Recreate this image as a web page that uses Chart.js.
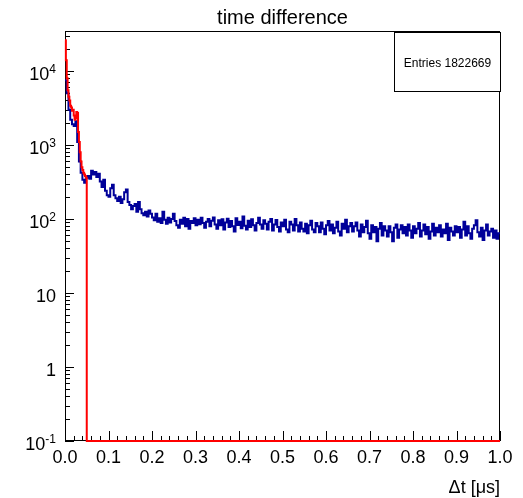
<!DOCTYPE html>
<html>
<head>
<meta charset="utf-8">
<script src="https://cdn.jsdelivr.net/npm/chart.js@4/dist/chart.umd.min.js"></script>
<style>
    html, body { margin: 0; padding: 0; background: #fff; }
    #wrap { width: 523px; height: 498px; }
</style>
</head>
<body>
<div id="wrap"><canvas id="timeDiff" width="523" height="498"></canvas></div>
<script>
// Histogram binning (x in microseconds)
const X_MIN = 0.0;
const X_MAX = 1.0;
const Y_MIN = 0.1;
const Y_MAX = 34700;
const BLUE_BIN = 0.004;
const RED_BIN = 0.002;

// time difference histogram, 250 bins of 0.004
const blueCounts = [
    7500, 5000, 3000, 2200, 1900, 1800, 2100, 1100, 600, 420,
    340, 310, 360, 380, 350, 450, 400, 430, 370, 410,
    320, 270, 340, 240, 210, 200, 260, 290, 210, 190,
    175, 200, 165, 185, 230, 250, 170, 155, 135, 150,
    160, 125, 170, 135, 120, 112, 125, 108, 130, 118,
    105, 96, 118, 92, 102, 88, 125, 98, 86, 104,
    90, 100, 118, 94, 82, 76, 98, 86, 104, 80,
    100, 74, 94, 88, 102,
    82, 98, 85, 104, 88, 76, 92, 100, 80, 95,
    105, 84, 74, 96, 82, 99, 72, 90, 101, 78,
    94, 80, 68, 102, 83, 92, 75, 108, 81, 72,
    95, 78, 99, 82, 70, 88, 104, 84, 74, 96,
    86, 72, 92, 100, 70, 84, 97, 78, 68, 90,
    80, 98, 72, 66, 92, 84, 70, 100, 82, 68,
    90, 74, 68, 86, 64, 82, 95, 72, 66, 88,
    80, 66, 90, 74, 62, 82, 94, 70, 84, 64,
    76, 92, 68, 60, 86, 74, 98, 66, 80, 88,
    68, 80, 90, 70, 58, 84, 66, 78, 95, 64,
    54, 82, 66, 78, 50, 74, 88, 60, 80, 70,
    58, 80, 66, 50, 76, 84, 56, 72, 82, 64,
    78, 60, 84, 70, 56, 80, 64, 74, 88, 58,
    70, 84, 62, 78, 54, 68, 86, 60, 76, 66,
    82, 58, 72, 64, 86, 52, 76, 68, 60, 80,
    66, 78, 56, 72, 92, 60, 80, 64, 54, 74,
    82, 96, 66, 58, 76, 52, 70, 84, 60, 68,
    74, 56, 70, 54, 64
];

// red overlay, 0.002 bins up to 0.05, empty afterwards
const redCounts = [
    26000, 14000, 8000, 5500, 4500, 4000, 3400, 3200, 2900, 3000,
    2500, 2200, 2300, 2800, 2700, 1500, 1100, 800, 600, 500,
    460, 420, 400, 380, 360
];

const xTickLabels = ['0.0', '0.1', '0.2', '0.3', '0.4', '0.5', '0.6', '0.7', '0.8', '0.9', '1.0'];
const yTickValues = [0.1, 1, 10, 100, 1000, 10000];
const yTickLabels = ['10^-1', '1', '10', '10^2', '10^3', '10^4'];

const entries = 1822669;
const FONT = '"Liberation Sans", Arial, Helvetica, sans-serif';

function histPoints(counts, width) {
    const pts = counts.map((v, i) => ({ x: X_MIN + i * width, y: Math.max(v, Y_MIN) }));
    pts.push({ x: X_MIN + counts.length * width, y: Math.max(counts[counts.length - 1], Y_MIN) });
    return pts;
}

const bluePoints = histPoints(blueCounts, BLUE_BIN);
const redPoints = redCounts.map((v, i) => ({ x: X_MIN + i * RED_BIN, y: v }));
redPoints.push({ x: redCounts.length * RED_BIN, y: Y_MIN });
redPoints.push({ x: X_MAX, y: Y_MIN });

// frame, ticks and tick labels in ROOT style
const rootAxes = {
    id: 'rootAxes',
    beforeDatasetsDraw(chart) {
        const { ctx, chartArea: a } = chart;
        const xs = chart.scales.x, ys = chart.scales.y;
        ctx.save();
        ctx.strokeStyle = '#000';
        ctx.lineWidth = 1;
        ctx.strokeRect(a.left + 0.5, a.top + 0.5, a.right - a.left - 1, a.bottom - a.top - 1);

        ctx.beginPath();
        // x ticks
        const xMajor = xTickLabels.map(parseFloat);
        xMajor.forEach((v, i) => {
            const px = Math.round(xs.getPixelForValue(v)) + 0.5;
            ctx.moveTo(px, a.bottom);
            ctx.lineTo(px, a.bottom - 10);
            if (i < xMajor.length - 1) {
                const step = (xMajor[i + 1] - v) / 5;
                for (let k = 1; k < 5; k++) {
                    const mx = Math.round(xs.getPixelForValue(v + k * step)) + 0.5;
                    ctx.moveTo(mx, a.bottom);
                    ctx.lineTo(mx, a.bottom - 5);
                }
            }
        });
        // y ticks (log)
        yTickValues.forEach(v => {
            const py = Math.round(ys.getPixelForValue(v)) + 0.5;
            ctx.moveTo(a.left, py);
            ctx.lineTo(a.left + 9, py);
            for (let k = 2; k <= 9; k++) {
                const mv = v * k;
                if (mv > Y_MAX) break;
                const my = Math.round(ys.getPixelForValue(mv)) + 0.5;
                ctx.moveTo(a.left, my);
                ctx.lineTo(a.left + 5, my);
            }
        });
        ctx.stroke();

        // x labels
        ctx.fillStyle = '#000';
        ctx.font = '18px ' + FONT;
        ctx.textAlign = 'center';
        ctx.textBaseline = 'alphabetic';
        xTickLabels.forEach(lbl => {
            ctx.fillText(lbl, xs.getPixelForValue(parseFloat(lbl)), a.bottom + 22);
        });

        // y labels with superscripts
        const right = a.left - 9;
        yTickLabels.forEach((lbl, i) => {
            const py = ys.getPixelForValue(yTickValues[i]);
            const parts = lbl.split('^');
            ctx.textAlign = 'right';
            if (parts.length === 2) {
                ctx.font = '12px ' + FONT;
                const ew = ctx.measureText(parts[1]).width;
                ctx.fillText(parts[1], right, py + 2);
                ctx.font = '18px ' + FONT;
                ctx.fillText(parts[0], right - ew, py + 9);
            } else {
                ctx.font = '18px ' + FONT;
                ctx.fillText(parts[0], right, py + 9);
            }
        });

        // axis title
        ctx.font = '18px ' + FONT;
        ctx.textAlign = 'right';
        ctx.fillText('\u0394t [\u03bcs]', a.right, a.bottom + 52);

        // title
        ctx.font = '20px ' + FONT;
        ctx.textAlign = 'center';
        ctx.fillText('time difference', (a.left + a.right) / 2, 24);
        ctx.restore();
    },
    afterDraw(chart) {
        const { ctx, chartArea: a } = chart;
        ctx.save();
        const bx = 394, by = a.top + 1, bw = a.right - 394 + 1, bh = 60;
        ctx.fillStyle = '#fff';
        ctx.fillRect(bx, by, bw, bh);
        ctx.strokeStyle = '#000';
        ctx.lineWidth = 1;
        ctx.strokeRect(bx + 0.5, by + 0.5, bw - 1, bh - 1);
        ctx.fillStyle = '#000';
        ctx.font = '12px ' + FONT;
        ctx.textAlign = 'center';
        ctx.fillText('Entries ' + entries, bx + bw / 2, by + 35);
        ctx.restore();
    }
};

const chart = new Chart(document.getElementById('timeDiff'), {
    type: 'line',
    data: {
        datasets: [{
            label: 'fit',
            data: redPoints,
            borderColor: '#ff0000',
            borderWidth: 2,
            stepped: true,
            pointRadius: 0,
            fill: false,
            clip: false,
            order: 0
        }, {
            label: 'time difference',
            data: bluePoints,
            borderColor: '#000099',
            borderWidth: 2,
            stepped: true,
            pointRadius: 0,
            fill: false,
            order: 1
        }]
    },
    options: {
        responsive: false,
        animation: false,
        layout: { padding: { left: 65, top: 31, right: 23, bottom: 57 } },
        scales: {
            x: { type: 'linear', min: X_MIN, max: X_MAX, display: false },
            y: { type: 'logarithmic', min: Y_MIN, max: Y_MAX, display: false }
        },
        plugins: {
            legend: { display: false },
            tooltip: { enabled: false }
        }
    },
    plugins: [rootAxes]
});
</script>
</body>
</html>
